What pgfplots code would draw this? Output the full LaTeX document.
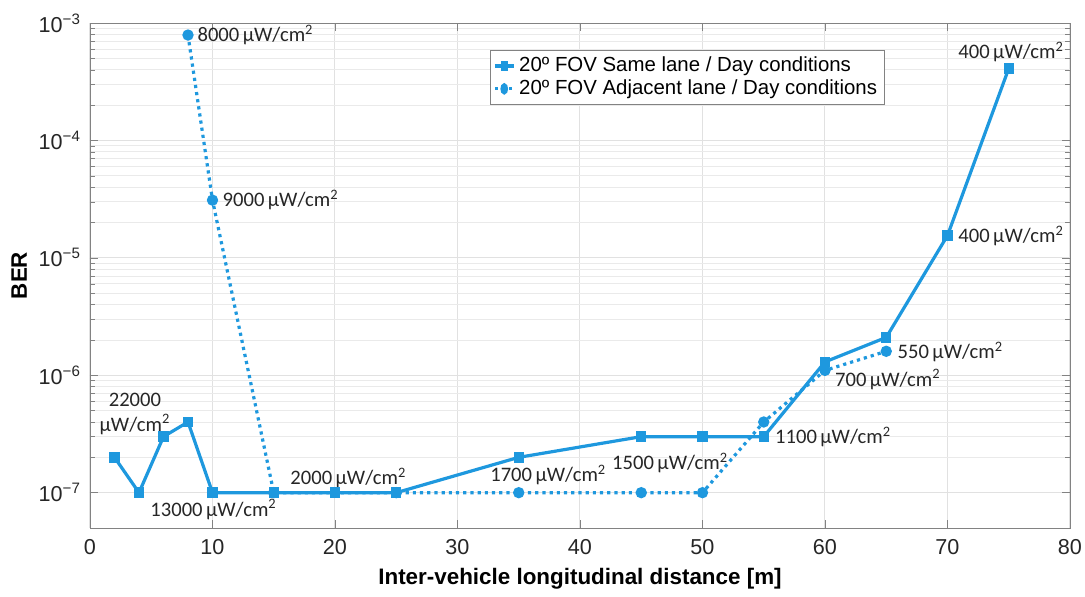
\documentclass[border=0pt]{standalone}
\usepackage{pgfplots}
\pgfplotsset{compat=1.18}
\usepackage{fontspec}
\setmainfont{Liberation Sans}
\newfontfamily\annot{Carlito}
\definecolor{serblue}{RGB}{30,152,222}
\definecolor{gridgray}{RGB}{225,225,225}
\definecolor{framegray}{RGB}{130,130,130}

\pgfplotstableread{
x   ber
2   2e-7
4   1e-7
6   3e-7
8   4e-7
10  1e-7
15  1e-7
20  1e-7
25  1e-7
35  2e-7
45  3e-7
50  3e-7
55  3e-7
60  1.3e-6
65  2.1e-6
70  1.55e-5
75  4.1e-4
}\samelane

\pgfplotstableread{
x   ber
8   7.9e-4
10  3.1e-5
15  1e-7
25  1e-7
35  1e-7
45  1e-7
50  1e-7
55  4e-7
60  1.1e-6
65  1.6e-6
}\adjlane

\newcommand{\uw}{\,µW/cm\textsuperscript{2}}

\begin{document}
\begin{tikzpicture}
% fixed frame around the plot area
\useasboundingbox (-45pt,-34pt) rectangle (497.5pt,264pt);
\begin{semilogyaxis}[
  scale only axis,
  width=490pt, height=252.5pt,
  xmin=0, xmax=80, ymin=5e-8, ymax=1e-3,
  xtick={0,10,...,80},
  ytick={1e-7,1e-6,1e-5,1e-4,1e-3},
  yticklabel={\pgfmathtruncatemacro\e{round(-\tick/2.302585)}10\textsuperscript{−\e}},
  /pgf/number format/assume math mode=true,
  tick label style={font=\fontsize{10.8}{12}\selectfont, text=black!85},
  yticklabel style={xshift=-1pt},
  xticklabel style={yshift=-2pt},
  tick align=inside,
  major tick length=4pt, minor tick length=2.5pt,
  tick style={framegray},
  axis line style={framegray},
  grid=both,
  major grid style={gridgray, line width=0.5pt},
  minor grid style={gridgray!70, line width=0.4pt},
  minor x tick num=0,
  xlabel={Inter-vehicle longitudinal distance [m]},
  ylabel={BER},
  label style={font=\fontsize{11.2}{13}\selectfont\bfseries},
  xlabel style={yshift=0pt},
  ylabel style={yshift=-1pt},
  legend style={at={(0.408,0.947)}, anchor=north west, draw=framegray,
    font=\fontsize{10.2}{12}\selectfont, inner sep=1.5pt, row sep=-1.5pt,
    cells={anchor=west}},
  legend cell align=left,
  legend image post style={xscale=0.55},
  clip=false,
]
\addplot[serblue, line width=1.6pt, mark=square*, mark size=1.8pt,
  mark options={solid}] table[x=x, y=ber] {\samelane};
\addlegendentry{20º FOV Same lane / Day conditions}
\addplot[serblue, line width=1.6pt, dotted, mark=*, mark size=2pt,
  mark options={solid}] table[x=x, y=ber] {\adjlane};
\addlegendentry{20º FOV Adjacent lane / Day conditions}

% irradiance labels
\begin{scope}[every node/.style={font=\annot\fontsize{10.3}{12}\selectfont, text=black!85, inner sep=0pt}]
\node[anchor=west] at (axis cs:8.75,7.9e-4) {8000\uw};
\node[anchor=west] at (axis cs:10.8,3.12e-5) {9000\uw};
\node at (axis cs:3.67,6.2e-7) {22000};
\node at (axis cs:3.67,3.8e-7) {µW/cm\textsuperscript{2}};
\node[anchor=west] at (axis cs:4.9,7.2e-8) {13000\uw};
\node[anchor=west] at (axis cs:16.33,1.34e-7) {2000\uw};
\node[anchor=west] at (axis cs:32.65,1.42e-7) {1700\uw};
\node[anchor=west] at (axis cs:42.6,1.8e-7) {1500\uw};
\node[anchor=west] at (axis cs:55.9,3.0e-7) {1100\uw};
\node[anchor=west] at (axis cs:60.8,9.2e-7) {700\uw};
\node[anchor=west] at (axis cs:65.9,1.58e-6) {550\uw};
\node[anchor=west] at (axis cs:70.86,1.54e-5) {400\uw};
\node[anchor=west] at (axis cs:70.86,5.66e-4) {400\uw};
\end{scope}
\end{semilogyaxis}
\end{tikzpicture}
\end{document}
